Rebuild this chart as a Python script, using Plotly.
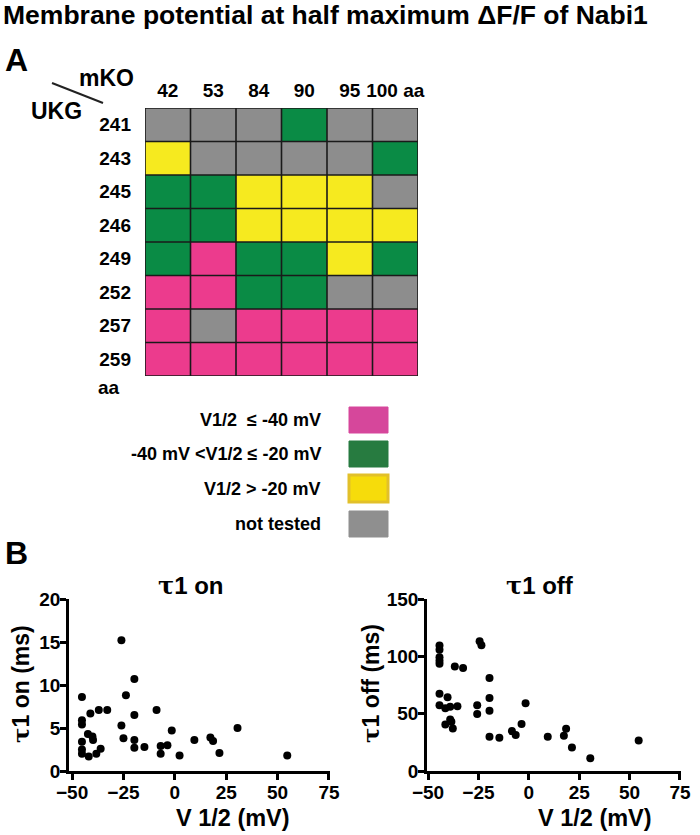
import plotly.graph_objects as go

# ---------------- data ----------------
mko_labels = ["42", "53", "84", "90", "95", "100 aa"]
ukg_labels = ["241", "243", "245", "246", "249", "252", "257", "259"]

# P = V1/2 <= -40 mV, G = -40 < V1/2 <= -20, Y = V1/2 > -20, N = not tested
grid_rows = [
    ["N", "N", "N", "G", "N", "N"],
    ["Y", "N", "N", "N", "N", "G"],
    ["G", "G", "Y", "Y", "Y", "N"],
    ["G", "G", "Y", "Y", "Y", "Y"],
    ["G", "P", "G", "G", "Y", "G"],
    ["P", "P", "G", "G", "N", "N"],
    ["P", "N", "P", "P", "P", "P"],
    ["P", "P", "P", "P", "P", "P"],
]
category_codes = ["P", "G", "Y", "N"]
legend_labels = ["V1/2  \u2264 -40 mV", "-40 mV <V1/2 \u2264 -20 mV", "V1/2 > -20 mV", "not tested"]

tau_on_v = [-45.2, -45.2, -45.2, -45.2, -45.2, -45.2, -42.3, -40.1, -39.8, -41.9, -38.2, -36.1,
            -41.1, -37.0, -32.9, -26.0, -19.7, -23.8, -8.9, -19.7, -26.0, -25.0, -19.7, -19.7,
            -14.8, -1.5, -6.9, -3.6, -6.9, 2.3, 9.5, 17.3, 18.6, 21.7, 30.5, 54.7]
tau_on = [8.6, 5.9, 5.4, 3.4, 2.5, 2.0, 4.3, 4.0, 3.6, 1.7, 2.0, 2.6,
          6.7, 7.1, 7.1, 15.2, 10.7, 8.8, 7.1, 6.5, 5.3, 3.8, 3.6, 2.7,
          2.8, 4.7, 2.9, 3.0, 2.0, 1.8, 3.6, 3.9, 3.5, 2.1, 5.0, 1.8]

tau_off_v = [-44.3, -44.3, -44.3, -44.3, -44.3, -44.3, -44.3,
             -40.3, -41.4, -39.0, -35.4, -41.4, -39.0, -38.4, -37.7, -36.7, -32.6,
             -24.4, -23.5, -19.5, -19.5, -19.5, -25.6, -25.6, -19.5, -14.6,
             -1.6, -3.6, -8.4, -6.5, 9.4, 17.4, 18.5, 21.4, 30.5, 54.5]
tau_off = [109.4, 105.8, 99.1, 96.2, 93.6, 67.3, 57.3,
           64.3, 54.7, 56.1, 56.4, 40.6, 45.0, 43.0, 37.1, 91.2, 89.8,
           113.2, 109.6, 81.0, 63.7, 52.6, 57.3, 49.7, 29.8, 28.9,
           59.1, 40.9, 34.8, 31.3, 29.8, 30.7, 36.8, 20.5, 11.1, 26.6]

x_ticks = [-50, -25, 0, 25, 50, 75]
on_ticks = [0, 5, 10, 15, 20]
off_ticks = [0, 50, 100, 150]

# ---------------- styling ----------------
W, H = 700, 835
FONT = "Liberation Sans, Arial, Helvetica, sans-serif"
grid_colors = ["#ec3b8d", "#0a8b45", "#f6ea1f", "#8d8d8d"]
legend_fill = ["#d6479b", "#277b40", "#f6dc0b", "#8f8f8f"]
legend_line = ["#d6479b", "#277b40", "#e2c02a", "#8f8f8f"]


def px(x):
    return x / W


def py(y):
    return 1 - y / H


z = [[category_codes.index(c) for c in row] for row in grid_rows]
cs = []
for i, col in enumerate(grid_colors):
    cs.append([i / 4, col])
    cs.append([(i + 1) / 4, col])

fig = go.Figure()
fig.add_trace(go.Heatmap(
    z=z, x=list(range(len(mko_labels))), y=list(range(len(ukg_labels))),
    colorscale=cs, zmin=-0.5, zmax=3.5, showscale=False, hoverinfo="skip",
    xaxis="x", yaxis="y",
))
fig.add_trace(go.Scatter(x=tau_on_v, y=tau_on, mode="markers",
                         marker=dict(color="black", size=8), xaxis="x2", yaxis="y2",
                         hoverinfo="skip", cliponaxis=False))
fig.add_trace(go.Scatter(x=tau_off_v, y=tau_off, mode="markers",
                         marker=dict(color="black", size=8), xaxis="x3", yaxis="y3",
                         hoverinfo="skip", cliponaxis=False))

shapes = []
ncol, nrow = len(mko_labels), len(ukg_labels)
for i in range(ncol + 1):
    shapes.append(dict(type="line", xref="x", yref="y", x0=i - 0.5, x1=i - 0.5,
                       y0=-0.5, y1=nrow - 0.5, line=dict(color="#1a1a1a", width=1.6)))
for j in range(nrow + 1):
    shapes.append(dict(type="line", xref="x", yref="y", x0=-0.5, x1=ncol - 0.5,
                       y0=j - 0.5, y1=j - 0.5, line=dict(color="#1a1a1a", width=1.6)))
# diagonal separator between mKO / UKG
shapes.append(dict(type="line", xref="paper", yref="paper", x0=px(52), y0=py(83),
                   x1=px(103), y1=py(103), line=dict(color="#222", width=2)))

annotations = []


def ann(text, x, y, size, xanchor="center", yanchor="middle", angle=0, weight="bold"):
    annotations.append(dict(text=text, x=px(x), y=py(y), xref="paper", yref="paper",
                            xanchor=xanchor, yanchor=yanchor, showarrow=False, textangle=angle,
                            font=dict(family=FONT, color="black", size=size, weight=weight)))


ann("Membrane potential at half maximum \u0394F/F of Nabi1", 1, 15, 26.5, xanchor="left")
ann("A", 3, 60, 32, xanchor="left")
ann("B", 3, 553, 32, xanchor="left")
ann("mKO", 106, 78, 23)
ann("UKG", 56, 111, 23)
ann("aa", 96, 387, 19, xanchor="left")

# legend
box_y = [(407, 433), (441, 467), (475, 502), (511, 537)]
for k, lab in enumerate(legend_labels):
    y0, y1 = box_y[k]
    ann(lab, 323, (y0 + y1) / 2, 18, xanchor="right")
    shapes.append(dict(type="rect", xref="paper", yref="paper", x0=px(349), x1=px(388),
                       y0=py(y1), y1=py(y0), fillcolor=legend_fill[k],
                       line=dict(color=legend_line[k], width=3 if k == 2 else 1)))

# panel B titles
tau = "<span style='font-family:DejaVu Serif'>\u03c4</span>"
ann(tau + "1 on", 191, 585, 24)
ann(tau + "1 off", 540, 585, 24)
ann("V 1/2 (mV)", 233, 818, 23.5)
ann("V 1/2 (mV)", 595, 818, 23.5)
ann(tau + "1 on (ms)", 20, 684, 23, angle=-90)
ann(tau + "1 off (ms)", 370, 684, 23, angle=-90)

scatter_axis = dict(showline=True, linecolor="black", linewidth=2.5, ticks="outside",
                    ticklen=6, tickwidth=2.5, tickcolor="black", showgrid=False,
                    zeroline=False, automargin=False,
                    tickfont=dict(family=FONT, size=19, color="black", weight="bold"))

fig.update_layout(
    width=W, height=H, margin=dict(l=0, r=0, t=0, b=0, autoexpand=False),
    paper_bgcolor="white", plot_bgcolor="white", showlegend=False,
    xaxis=dict(domain=[px(145), px(418)], anchor="y", range=[-0.5, ncol - 0.5],
               side="top", tickvals=list(range(ncol)), ticktext=mko_labels, ticks="",
               showgrid=False, zeroline=False, showline=False, ticklabelstandoff=6,
               automargin=False,
               tickfont=dict(family=FONT, size=19, color="black", weight="bold")),
    yaxis=dict(domain=[py(376), py(108)], anchor="x", range=[nrow - 0.5, -0.5],
               tickvals=list(range(nrow)), ticktext=ukg_labels, ticks="",
               showgrid=False, zeroline=False, showline=False, ticklabelstandoff=13,
               automargin=False,
               tickfont=dict(family=FONT, size=19, color="black", weight="bold")),
    xaxis2=dict(domain=[px(69), px(330)], anchor="y2", range=[-51.5, 75.5],
                tickvals=x_ticks, ticklabelstandoff=-4, **scatter_axis),
    yaxis2=dict(domain=[py(771), py(599)], anchor="x2", range=[0, 20],
                tickvals=on_ticks, ticklabelstandoff=-4, **scatter_axis),
    xaxis3=dict(domain=[px(427), px(681)], anchor="y3", range=[-50.5, 75.5],
                tickvals=x_ticks, ticklabelstandoff=-4, **scatter_axis),
    yaxis3=dict(domain=[py(771), py(599)], anchor="x3", range=[0, 150],
                tickvals=off_ticks, ticklabelstandoff=-4, **scatter_axis),
    shapes=shapes, annotations=annotations,
)

fig.write_html("out.html", config={"displayModeBar": False},
               post_script="document.body.style.margin='0';")
